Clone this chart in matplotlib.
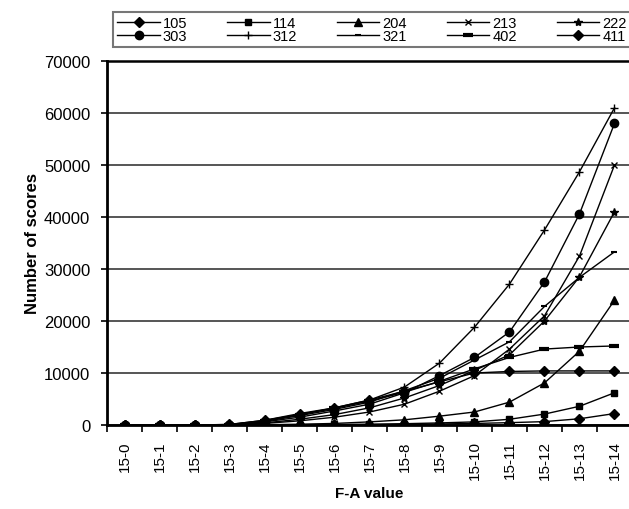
import matplotlib.pyplot as plt
import numpy as np

plt.rcParams['font.family'] = ['Liberation Sans', 'DejaVu Sans']

categories = ['15-%d' % i for i in range(15)]

s105 = [0, 0, 0, 100, 900, 2200, 3300, 4800, 6500, 8300, 10000, 10300, 10400, 10400, 10400]
s114 = [0, 0, 0, 0, 0, 50, 100, 150, 250, 400, 600, 1100, 2100, 3600, 6200]
s204 = [0, 0, 0, 0, 50, 150, 300, 600, 1000, 1700, 2500, 4400, 8100, 14200, 24000]
s213 = [0, 0, 0, 0, 300, 800, 1500, 2500, 4000, 6500, 9500, 14600, 21000, 32500, 50000]
s222 = [0, 0, 0, 0, 400, 1100, 2000, 3300, 5200, 7600, 10500, 13500, 20000, 28500, 41000]
s303 = [0, 0, 0, 50, 600, 1500, 2700, 4000, 6200, 9500, 13000, 17900, 27500, 40600, 58000]
s312 = [0, 0, 0, 100, 900, 2000, 3300, 4800, 7300, 11900, 18800, 27100, 37500, 48700, 61000]
s321 = [0, 0, 0, 50, 700, 1800, 3000, 4400, 6600, 9000, 12500, 16000, 22800, 28400, 33300]
s402 = [0, 0, 0, 50, 800, 2000, 3200, 4600, 6300, 8400, 10800, 13000, 14600, 15000, 15200]
s411 = [0, 0, 0, 0, 0, 30, 50, 80, 120, 200, 300, 450, 650, 1200, 2200]

series = [
    ('105', s105, 'D', 5, 1),
    ('114', s114, 's', 5, 1),
    ('204', s204, '^', 6, 1),
    ('213', s213, 'x', 5, 1),
    ('222', s222, '*', 6, 1),
    ('303', s303, 'o', 6, 1),
    ('312', s312, '+', 6, 1),
    ('321', s321, '_', 5, 1.5),
    ('402', s402, '_', 7, 3),
    ('411', s411, 'D', 5, 1),
]

fig = plt.figure(figsize=(6.29, 5.10), dpi=100)
ax = fig.add_axes([107/629, 84/510, 525/629, 364/510])

x = np.arange(len(categories))
handles = {}
for name, vals, mk, ms, mew in series:
    h, = ax.plot(x, vals, color='black', lw=1, marker=mk, markersize=ms,
                 markeredgewidth=mew, label=name)
    handles[name] = h

ax.set_xlim(-0.5, 14.5)
ax.set_ylim(0, 70000)
ax.set_yticks(np.arange(0, 70001, 10000))
ax.set_xticks(x)
ax.set_xticklabels(categories, rotation=90, fontsize=11)
ax.set_xticks(np.arange(-0.5, 15, 1), minor=True)
ax.tick_params(axis='x', which='major', length=0, pad=11)
ax.tick_params(axis='x', which='minor', length=5, width=1.2, direction='out')
ax.tick_params(axis='y', labelsize=12, length=4, width=1.2, direction='out', pad=8)
ax.grid(axis='y', color='#555555', lw=1.4)
ax.set_axisbelow(True)

ax.spines['right'].set_visible(False)
ax.spines['top'].set_linewidth(1.8)
ax.spines['left'].set_linewidth(2)
ax.spines['bottom'].set_linewidth(2)

ax.set_ylabel('Number of scores', fontsize=12, fontweight='bold', labelpad=3)
ax.set_xlabel('F-A value', fontsize=11, fontweight='bold', labelpad=5)

order = ['105', '303', '114', '312', '204', '321', '213', '402', '222', '411']
leg = fig.legend([handles[n] for n in order], order, ncol=5,
                 loc='lower left', mode='expand',
                 bbox_to_anchor=(113/629, 1 - 48/510, 518/629, 36/510),
                 fontsize=10.5, handlelength=2.9, handletextpad=0.2,
                 labelspacing=-0.1, borderpad=0.3,
                 borderaxespad=0, frameon=True, fancybox=False)
leg.get_frame().set_edgecolor('#555555')
leg.get_frame().set_linewidth(1.5)

fig.savefig('out.png', dpi=100)
